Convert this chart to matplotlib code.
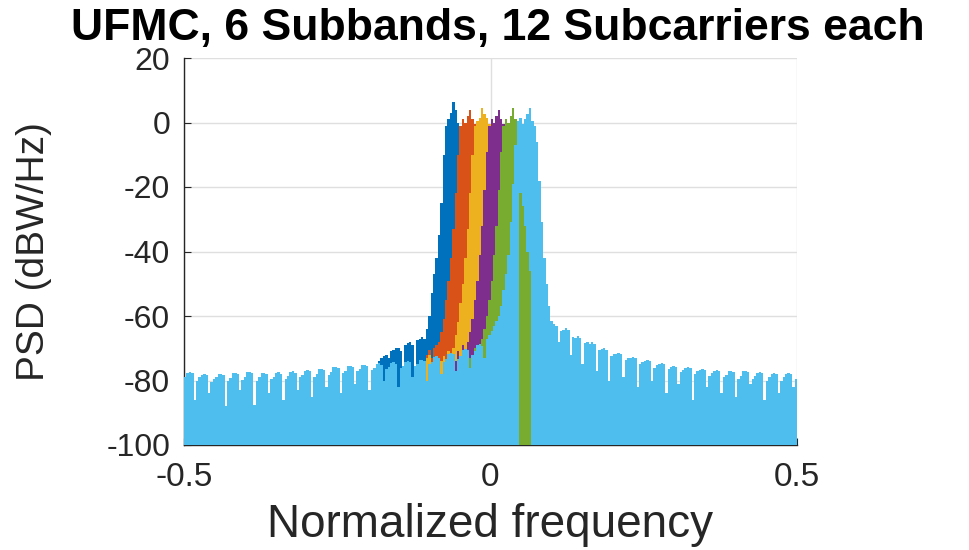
import numpy as np
import matplotlib
matplotlib.use("Agg")
import matplotlib.pyplot as plt

# ---- data: PSD (dBW/Hz) per frequency bin, bin width 1/256 (normalized frequency) ----
BIN_WIDTH = 1 / 256

title = "UFMC, 6 Subbands, 12 Subcarriers each"
x_label = "Normalized frequency"
y_label = "PSD (dBW/Hz)"
x_ticks = [-0.5, 0, 0.5]
x_tick_labels = ["-0.5", "0", "0.5"]
y_ticks = [-100, -80, -60, -40, -20, 0, 20]
y_tick_labels = ["-100", "-80", "-60", "-40", "-20", "0", "20"]

# subband 1 (bins starting at f = -0.1875)
sb1_f0 = -0.1875
sb1_psd = [-75.5, -74, -73, -72.5, -72, -73, -71, -70.5, -70, -70, -71, -80,
           -69, -68.5, -68, -69, -78, -67.5, -67, -66.5, -67, -64, -60, -53,
           -47, -42, -35, -25, -10, -1, 1, 3, 6.5, 4, 0, -1, -10, -24, -35,
           -43, -50, -57, -62, -66, -68, -70, -72]

# subband 2
sb2_f0 = -0.109375
sb2_psd = [-74, -72, -70.5, -73, -70, -69, -68, -65, -61, -55, -49, -42, -33,
           -22, -10, -1, 1, 0, 2, 4, 1, -0.5, -10, -23, -34, -43, -50, -57,
           -62, -66, -68, -70]

# subband 3
sb3_f0 = -0.109375
sb3_psd = [-76, -73, -72, -74.5, -73.5, -75, -75, -74, -72.5, -74, -71, -72,
           -70, -66, -62, -56, -50, -42, -33, -22, -10, -1, 0.5, 1.5, 4.5,
           2.5, 1.5, -0.5, -10, -23, -34, -43, -50, -57, -62, -66, -69, -71]

# subband 4
sb4_f0 = -0.0625
sb4_psd = [-76, -74, -71, -73, -69, -70.5, -68, -65, -61, -55, -49, -41, -32,
           -21, -9, -1, 1, 0, 2, 4, 1, -0.5, -10, -23, -34, -43, -50, -57,
           -62, -66, -69]

# subband 5
sb5_f0 = -0.0390625
sb5_psd = [-76, -73, -72, -70, -70.5, -69, -67, -64, -60, -55, -49, -41, -32,
           -21, -9, -1, 1, 0, 2, 4.5, 1, -0.5, -10, -23, -34, -43, -50, -57,
           -62, -66]
# narrow part of subband 5 that rises above subband 6
sb5_notch_f0 = 0.046875
sb5_notch_psd = [-22, -26, -32, -40, -46]

# subband 6 (full band)
sb6_f0 = -0.5
sb6_psd = [
    -79, -77.6, -77.4, -77.8, -86, -80, -79, -78.2, -77.9, -78.3, -84, -80.5, -79.5, -79, -78.1, -77.9,
    -78.2, -88, -80, -79.2, -77.8, -77.6, -78, -83, -79.8, -79, -77.5, -77.3, -77.7, -87.5, -80, -78.8,
    -77.8, -77.6, -78, -84, -79.6, -78.9, -77.8, -77.5, -77.9, -86, -79.5, -78.7, -77.4, -77.2, -77.6, -83,
    -79, -78.2, -76.9, -76.7, -77.1, -85, -78.8, -77.9, -76.5, -76.3, -76.7, -82, -78.2, -77.4, -75.9, -75.7,
    -76.1, -84, -77.6, -76.9, -75.6, -75.4, -75.8, -81, -77.2, -76.5, -75.3, -75.1, -75.5, -83, -76.8, -76.1,
    -74.9, -74.7, -75.1, -80, -76.4, -75.8, -74.6, -74.4, -74.8, -82, -76, -75.4, -74.2, -74, -74.4, -79,
    -75.6, -75, -73.7, -73.5, -73.9, -80, -75, -74.3, -72.8, -72.5, -72.9, -78, -74.2, -73.4, -71.8, -71.5,
    -71.9, -77, -73.2, -72.4, -70.5, -70.2, -70.6, -76, -72, -71, -69, -68.6, -69.2, -73, -67, -66,
    -64.5, -63, -61.5, -60, -57, -52, -47, -41, -31, -19, -7, 0.5, 1.5, -0.5, 1, 2.5,
    4.5, 0.5, -1, -6, -18, -31, -42, -50, -57, -61.5, -62.5, -63, -68, -64.5, -64.2, -63.8,
    -64.4, -72, -66.5, -66.7, -66.3, -66.9, -75, -68.5, -68, -68.6, -68.2, -68.8, -77, -70.5, -70.2, -69.9,
    -70.4, -80, -72.5, -71.8, -71.7, -71.4, -71.9, -79, -73.5, -73, -72.9, -72.6, -73.1, -82, -75, -74.2,
    -73.8, -73.5, -74, -80, -76, -75.2, -74.8, -74.5, -75, -84, -76.5, -75.7, -75.4, -75.9, -81, -77.5,
    -76.8, -76, -75.7, -76.2, -86, -78, -77.2, -76.6, -76.3, -76.8, -82, -78.6, -77.8, -76.9, -76.6, -77.1,
    -84, -79, -78.2, -77.2, -76.9, -77.4, -85, -79.5, -78.5, -77.2, -76.9, -77.4, -81, -79.4, -78.6, -77.6,
    -77.3, -77.8, -86, -80, -79, -77.9, -77.6, -78.1, -84, -80, -79, -77.9, -77.6, -78.1, -82, -79.5,
]

# ---- style ----
FONT = "Liberation Sans"
TEXT_COLOR = "#262626"
COLORS = ["#0072BD", "#D95319", "#EDB120", "#7E2F8E", "#77AC30", "#4DBEEE"]

plt.rcParams["font.family"] = [FONT, "DejaVu Sans"]

fig = plt.figure(figsize=(9.69, 5.5), dpi=100)
ax = fig.add_axes([184 / 969, 105 / 550, 613 / 969, 387 / 550])

series = [
    (sb1_f0, sb1_psd, COLORS[0]),
    (sb2_f0, sb2_psd, COLORS[1]),
    (sb3_f0, sb3_psd, COLORS[2]),
    (sb4_f0, sb4_psd, COLORS[3]),
    (sb5_f0, sb5_psd, COLORS[4]),
    (sb6_f0, sb6_psd, COLORS[5]),
    (sb5_notch_f0, sb5_notch_psd, COLORS[4]),
]

for z, (f0, psd, color) in enumerate(series):
    edges = f0 + BIN_WIDTH * np.arange(len(psd) + 1)
    ax.stairs(psd, edges, baseline=-120, fill=True, color=color,
              linewidth=0, zorder=3 + z * 0.1)

ax.set_xlim(-0.5, 0.5)
ax.set_ylim(-100, 20)
ax.set_xticks(x_ticks)
ax.set_xticklabels(x_tick_labels)
ax.set_yticks(y_ticks)
ax.set_yticklabels(y_tick_labels)

ax.set_axisbelow(True)
ax.grid(True, color="#DFDFDF", linewidth=1.0)
for side in ("top", "right"):
    ax.spines[side].set_visible(False)
for side in ("left", "bottom"):
    ax.spines[side].set_color(TEXT_COLOR)
    ax.spines[side].set_linewidth(1.0)

ax.tick_params(axis="both", direction="in", length=5, width=0.8,
               color=TEXT_COLOR, labelcolor=TEXT_COLOR, labelsize=23)
ax.tick_params(axis="x", pad=12, labelsize=24)
ax.tick_params(axis="y", pad=10)

ax.set_xlabel(x_label, fontsize=33, color=TEXT_COLOR)
ax.xaxis.set_label_coords(0.5, -0.15)
ax.xaxis.label.set_va("top")
ax.set_ylabel(y_label, fontsize=28, color=TEXT_COLOR)
ax.yaxis.set_label_coords(-0.215, 0.5)

ax.set_title(title, fontsize=32, fontweight="bold", color="black",
             x=(498 - 184) / 613, pad=13)

fig.savefig("out.png", dpi=100)
